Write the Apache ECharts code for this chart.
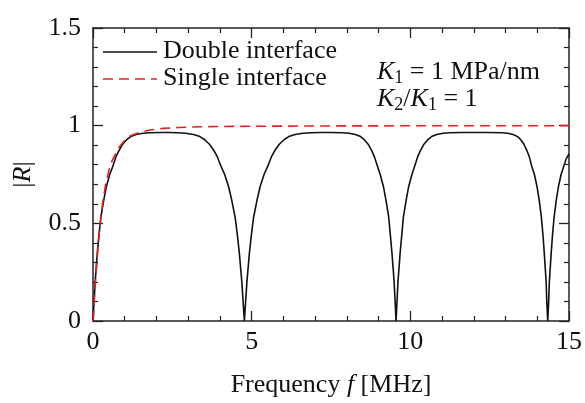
<!DOCTYPE html>
<html>
<head>
<meta charset="utf-8">
<script src="https://cdn.jsdelivr.net/npm/echarts@6/dist/echarts.min.js"></script>
<style>
html,body{margin:0;padding:0;background:#fff;}
#chart{width:585px;height:403px;}
</style>
</head>
<body>
<div id="chart"></div>
<script>
// ---- data ----
const seriesNames = ['Double interface', 'Single interface'];
const xTicks = [0, 5, 10, 15];
const yTicks = [0, 0.5, 1, 1.5];

// [frequency (MHz), |R|]
const doubleInterface = [
  [0,0],[0.034,0.1],[0.068,0.2],[0.136,0.35],[0.187,0.44],[0.247,0.53],[0.34,0.62],[0.425,0.69],
  [0.527,0.75],[0.62,0.79],[0.72,0.84],[0.81,0.87],[0.935,0.905],[1.06,0.928],[1.19,0.944],
  [1.36,0.955],[1.57,0.961],[1.8,0.964],[2.1,0.965],[2.39,0.965],
  [2.67,0.964],[2.92,0.961],[3.17,0.955],[3.37,0.944],[3.52,0.928],[3.67,0.905],[3.82,0.87],
  [3.92,0.84],[4.04,0.79],[4.15,0.75],[4.27,0.69],[4.37,0.62],[4.48,0.53],[4.55,0.44],
  [4.61,0.35],[4.69,0.2],[4.73,0.1],[4.77,0],
  [4.81,0.1],[4.85,0.2],[4.93,0.35],[4.99,0.44],[5.06,0.53],[5.17,0.62],[5.27,0.69],[5.39,0.75],
  [5.50,0.79],[5.62,0.84],[5.72,0.87],[5.87,0.905],[6.02,0.928],[6.17,0.944],[6.37,0.955],
  [6.62,0.961],[6.87,0.964],[7.16,0.965],[7.47,0.965],
  [7.87,0.964],[8.07,0.961],[8.27,0.955],[8.43,0.944],[8.55,0.928],[8.67,0.905],[8.79,0.87],
  [8.87,0.84],[8.97,0.79],[9.05,0.75],[9.15,0.69],[9.23,0.62],[9.32,0.53],[9.37,0.44],
  [9.42,0.35],[9.49,0.2],[9.52,0.1],[9.55,0],
  [9.58,0.1],[9.61,0.2],[9.68,0.35],[9.73,0.44],[9.78,0.53],[9.87,0.62],[9.95,0.69],[10.05,0.75],
  [10.13,0.79],[10.23,0.84],[10.31,0.87],[10.43,0.905],[10.55,0.928],[10.67,0.944],[10.83,0.955],
  [11.03,0.961],[11.23,0.964],[11.6,0.965],[11.94,0.965],[12.4,0.965],
  [12.9,0.964],[13.07,0.961],[13.24,0.955],[13.38,0.944],[13.48,0.928],[13.58,0.905],[13.68,0.87],
  [13.75,0.84],[13.83,0.79],[13.91,0.75],[13.99,0.69],[14.06,0.62],[14.13,0.53],[14.18,0.44],
  [14.22,0.35],[14.28,0.2],[14.30,0.1],[14.33,0],
  [14.36,0.1],[14.38,0.2],[14.44,0.35],[14.48,0.44],[14.53,0.53],[14.60,0.62],[14.67,0.69],
  [14.75,0.75],[14.83,0.79],[14.91,0.83],[15,0.855]
];

const singleInterface = [
  [0,0],[0.05,0.127],[0.1,0.25],[0.15,0.36],[0.2,0.455],[0.3,0.6],[0.4,0.7],[0.5,0.77],
  [0.6,0.82],[0.8,0.885],[1.0,0.925],[1.2,0.95],[1.5,0.967],[1.8,0.978],[2.2,0.986],
  [2.7,0.991],[3.5,0.995],[5,0.997],[8,0.999],[15,1.0]
];

// ---- chart ----
const FONT = '"Liberation Serif", "Times New Roman", serif';
const AX = '#222';
const BLACK = '#111';
const RED = '#e3211c';
const RED_DASH = [10, 6];
const chart = echarts.init(document.getElementById('chart'), null, {renderer: 'canvas'});

const xInterval = xTicks[1] - xTicks[0];
const yInterval = yTicks[1] - yTicks[0];

function axisCommon(showLabel, margin) {
  return {
    axisLine: {show: true, onZero: false, lineStyle: {color: AX, width: 1.5}},
    axisTick: {show: true, inside: true, length: 10, lineStyle: {color: AX, width: 1.3}},
    minorTick: {show: true, splitNumber: 5, length: 5, lineStyle: {color: AX, width: 1.2}},
    splitLine: {show: false},
    axisLabel: {show: showLabel, color: BLACK, fontFamily: FONT, fontSize: 26, margin: margin || 8}
  };
}

const richItalic = {i: {fontFamily: FONT, fontSize: 26, fontStyle: 'italic', color: BLACK}};
const annRich = {
  i: {fontFamily: FONT, fontSize: 26, fontStyle: 'italic', fill: BLACK, lineHeight: 30},
  n: {fontFamily: FONT, fontSize: 26, fill: BLACK, lineHeight: 30},
  s: {fontFamily: FONT, fontSize: 18, fill: BLACK, lineHeight: 17, verticalAlign: 'bottom'}
};

const option = {
  animation: false,
  backgroundColor: '#fff',
  grid: {left: 93, right: 13, top: 28, bottom: 81, containLabel: false},
  xAxis: [
    Object.assign({
      type: 'value', position: 'bottom', min: xTicks[0], max: xTicks[xTicks.length - 1], interval: xInterval,
      name: 'Frequency {i|f} [MHz]', nameLocation: 'middle', nameGap: 51,
      nameTextStyle: {fontFamily: FONT, fontSize: 26, color: BLACK, rich: richItalic}
    }, axisCommon(true, 8)),
    Object.assign({
      type: 'value', position: 'top', min: xTicks[0], max: xTicks[xTicks.length - 1], interval: xInterval
    }, axisCommon(false))
  ],
  yAxis: [
    Object.assign({
      type: 'value', position: 'left', min: yTicks[0], max: yTicks[yTicks.length - 1], interval: yInterval,
      name: '|{i|R}|', nameLocation: 'middle', nameGap: 57, nameRotate: 90,
      nameTextStyle: {fontFamily: FONT, fontSize: 26, color: BLACK, rich: richItalic}
    }, axisCommon(true, 12)),
    Object.assign({
      type: 'value', position: 'right', min: yTicks[0], max: yTicks[yTicks.length - 1], interval: yInterval
    }, axisCommon(false))
  ],
  series: [
    {
      name: seriesNames[0], type: 'line', data: doubleInterface, xAxisIndex: 0, yAxisIndex: 0,
      showSymbol: false, symbol: 'none', smooth: false,
      lineStyle: {color: BLACK, width: 1.6, type: 'solid'}
    },
    {
      name: seriesNames[1], type: 'line', data: singleInterface, xAxisIndex: 0, yAxisIndex: 0,
      showSymbol: false, symbol: 'none', smooth: false,
      lineStyle: {color: RED, width: 1.6, type: RED_DASH}
    }
  ],
  graphic: [
    // legend
    {type: 'line', shape: {x1: 103, y1: 52, x2: 157, y2: 52}, style: {stroke: BLACK, lineWidth: 1.6}},
    {type: 'text', left: 163, top: 38, style: {text: seriesNames[0], fontFamily: FONT, fontSize: 26, fill: BLACK}},
    {type: 'line', shape: {x1: 103, y1: 79, x2: 157, y2: 79}, style: {stroke: RED, lineWidth: 1.6, lineDash: RED_DASH}},
    {type: 'text', left: 163, top: 65, style: {text: seriesNames[1], fontFamily: FONT, fontSize: 26, fill: BLACK}},
    // annotation
    {type: 'text', left: 377, top: 59, style: {text: '{i|K}{s|1}{n| = 1 MPa/nm}', rich: annRich}},
    {type: 'text', left: 377, top: 86, style: {text: '{i|K}{s|2}{n|/}{i|K}{s|1}{n| = 1}', rich: annRich}}
  ]
};
chart.setOption(option);
</script>
</body>
</html>
